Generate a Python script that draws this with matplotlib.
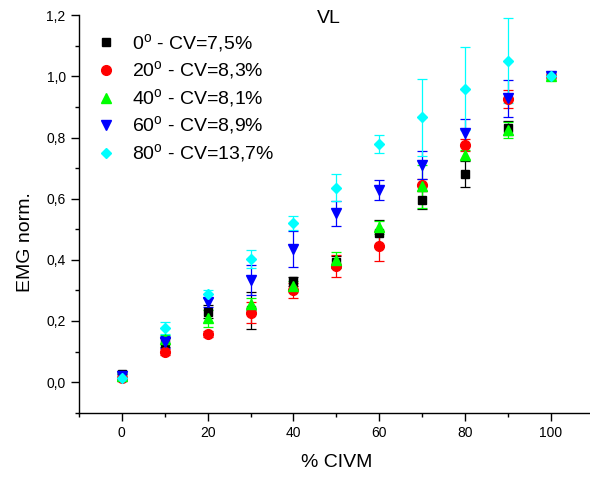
import matplotlib
matplotlib.use('Agg')
import matplotlib.pyplot as plt
from matplotlib.lines import Line2D

plt.rcParams['font.family'] = ['Liberation Sans', 'DejaVu Sans']
plt.rcParams['mathtext.fontset'] = 'custom'
plt.rcParams['mathtext.rm'] = 'Liberation Sans'

# % CIVM levels
civm = [0, 10, 20, 30, 40, 50, 60, 70, 80, 90, 100]

# normalised EMG per knee angle (mean, sd)
emg_0 = [0.025, 0.13, 0.231, 0.235, 0.33, 0.394, 0.487, 0.596, 0.681, 0.832, 1.0]
sd_0 = [0.01, 0.015, 0.02, 0.06, 0.015, 0.02, 0.045, 0.03, 0.044, 0.023, 0.0]
emg_20 = [0.015, 0.10, 0.157, 0.227, 0.30, 0.38, 0.445, 0.645, 0.776, 0.926, 1.0]
sd_20 = [0.01, 0.01, 0.01, 0.035, 0.025, 0.035, 0.05, 0.02, 0.02, 0.03, 0.0]
emg_40 = [0.02, 0.14, 0.209, 0.256, 0.315, 0.40, 0.506, 0.64, 0.743, 0.825, 1.0]
sd_40 = [0.01, 0.015, 0.028, 0.02, 0.015, 0.025, 0.02, 0.07, 0.015, 0.025, 0.0]
emg_60 = [0.02, 0.131, 0.261, 0.334, 0.436, 0.552, 0.628, 0.71, 0.816, 0.928, 1.0]
sd_60 = [0.005, 0.02, 0.015, 0.05, 0.06, 0.04, 0.033, 0.047, 0.045, 0.06, 0.0]
emg_80 = [0.015, 0.178, 0.288, 0.402, 0.522, 0.636, 0.779, 0.866, 0.96, 1.052, 1.0]
sd_80 = [0.01, 0.02, 0.012, 0.03, 0.023, 0.044, 0.03, 0.125, 0.135, 0.14, 0.0]

labels = [r'0$^\mathregular{o}$ - CV=7,5%', r'20$^\mathregular{o}$ - CV=8,3%',
          r'40$^\mathregular{o}$ - CV=8,1%', r'60$^\mathregular{o}$ - CV=8,9%',
          r'80$^\mathregular{o}$ - CV=13,7%']

x_ticks = [0, 20, 40, 60, 80, 100]
y_ticks = [0.0, 0.2, 0.4, 0.6, 0.8, 1.0, 1.2]
y_ticklabels = ['0,0', '0,2', '0,4', '0,6', '0,8', '1,0', '1,2']

series = [(emg_0, sd_0, 's', 6, '#000000'),
          (emg_20, sd_20, 'o', 7, '#ff0000'),
          (emg_40, sd_40, '^', 7.5, '#00ff00'),
          (emg_60, sd_60, 'v', 7.5, '#0000ff'),
          (emg_80, sd_80, 'D', 5.5, '#00ffff')]

fig = plt.figure(figsize=(5.9, 4.78), dpi=100)
ax = fig.add_axes([0.1337, 0.1366, 0.873, 0.8314])

handles = []
for (y, e, m, ms, c), lab in zip(series, labels):
    ax.errorbar(civm, y, yerr=e, fmt=m, ms=ms, color=c, mec=c, mfc=c,
                ecolor=c, elinewidth=0.9, capsize=3.5, capthick=0.9)
    handles.append(Line2D([], [], ls='none', marker=m, ms=ms, color=c, label=lab))

ax.set_xlim(-10, 110)
ax.set_ylim(-0.1, 1.2)
ax.set_xticks(x_ticks)
ax.set_xticks([-10, 10, 30, 50, 70, 90, 110], minor=True)
ax.set_yticks(y_ticks)
ax.set_yticklabels(y_ticklabels)
ax.set_yticks([-0.1, 0.1, 0.3, 0.5, 0.7, 0.9, 1.1], minor=True)

for s in ['top', 'right']:
    ax.spines[s].set_visible(False)
for s in ['left', 'bottom']:
    ax.spines[s].set_linewidth(1.0)
ax.tick_params(which='major', direction='out', length=6, width=1.0, labelsize=10, pad=3.5)
ax.tick_params(which='minor', direction='out', length=3, width=1.0)

ax.set_xlabel('% CIVM', fontsize=14)
ax.set_ylabel('EMG norm.', fontsize=14)
ax.xaxis.set_label_coords(0.5, -0.105)
ax.yaxis.set_label_coords(-0.087, 0.43)

ax.text(48.3, 1.188, 'VL', fontsize=14, ha='center', va='center')

fig.legend(handles=handles, loc='upper left', bbox_to_anchor=(0.1627, 0.933),
           frameon=False, fontsize=14, handlelength=1.0, handletextpad=0.85,
           labelspacing=0.25, borderpad=0, borderaxespad=0)

fig.savefig('out.png', dpi=100)
